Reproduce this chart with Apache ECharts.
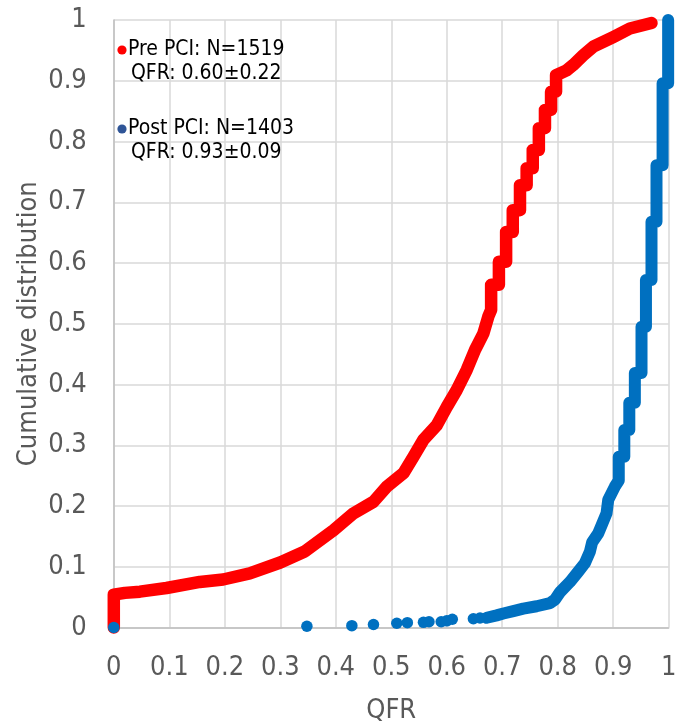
<!DOCTYPE html>
<html>
<head>
<meta charset="utf-8">
<script src="https://cdn.jsdelivr.net/npm/echarts@6/dist/echarts.min.js"></script>
<style>
  html, body { margin: 0; padding: 0; background: #ffffff; }
  #chart { width: 677px; height: 726px; }
</style>
</head>
<body>
<div id="chart"></div>
<script>
// Cumulative distribution of QFR before PCI (QFR value, cumulative fraction)
const preQfr = [0, 0, 0.02, 0.047, 0.095, 0.155, 0.197, 0.245, 0.30, 0.344, 0.396, 0.432, 0.468, 0.492,
  0.522, 0.540, 0.558, 0.582, 0.600, 0.618, 0.636, 0.651, 0.666, 0.675, 0.680, 0.680,
  0.694, 0.694, 0.707, 0.707, 0.719, 0.719, 0.732, 0.732, 0.744, 0.744, 0.755, 0.755, 0.766, 0.766,
  0.777, 0.777, 0.788, 0.788, 0.797, 0.797, 0.816, 0.828, 0.846, 0.864, 0.900, 0.930, 0.969];
const preCum = [0, 0.054, 0.057, 0.059, 0.065, 0.075, 0.079, 0.089, 0.107, 0.125, 0.160, 0.188, 0.207, 0.232,
  0.254, 0.281, 0.309, 0.333, 0.363, 0.391, 0.424, 0.457, 0.484, 0.512, 0.523, 0.564,
  0.564, 0.602, 0.602, 0.651, 0.651, 0.687, 0.687, 0.728, 0.728, 0.756, 0.756, 0.786, 0.786, 0.822,
  0.822, 0.852, 0.852, 0.882, 0.882, 0.909, 0.917, 0.926, 0.942, 0.956, 0.972, 0.986, 0.995];

// Cumulative distribution of QFR after PCI: sparse low values, then the dense curve
const postDotQfr = [0, 0.348, 0.429, 0.468, 0.510, 0.529, 0.558, 0.568, 0.590, 0.600, 0.610, 0.648, 0.660];
const postDotCum = [0, 0.002, 0.003, 0.005, 0.007, 0.008, 0.0085, 0.0095, 0.0095, 0.011, 0.0135, 0.0145, 0.0156];
const postQfr = [0.672, 0.690, 0.702, 0.720, 0.738, 0.762, 0.786, 0.795, 0.804, 0.822, 0.837, 0.849, 0.858,
  0.862, 0.873, 0.879, 0.888, 0.891, 0.903, 0.910, 0.910, 0.920, 0.920, 0.929, 0.929, 0.939, 0.939,
  0.951, 0.951, 0.959, 0.959, 0.969, 0.969, 0.978, 0.978, 0.989, 0.989, 0.999, 0.999];
const postCum = [0.016, 0.020, 0.023, 0.027, 0.031, 0.035, 0.040, 0.046, 0.058, 0.075, 0.092, 0.106, 0.125,
  0.140, 0.155, 0.168, 0.188, 0.210, 0.232, 0.242, 0.281, 0.281, 0.325, 0.325, 0.370, 0.370, 0.419,
  0.419, 0.495, 0.495, 0.572, 0.572, 0.668, 0.668, 0.761, 0.761, 0.896, 0.896, 1.0];

const legendLines = [
  { head: 'Pre PCI: N=1519', stat: 'QFR: 0.60\u00b10.22', dot: '#ff0000' },
  { head: 'Post PCI: N=1403', stat: 'QFR: 0.93\u00b10.09', dot: '#2f5597' }
];

const zip = (xs, ys) => xs.map((x, i) => [x, ys[i]]);

const FONT = '"DejaVu Sans Condensed", "DejaVu Sans", sans-serif';
const RED = '#ff0000';
const BLUE = '#0070c0';

const chart = echarts.init(document.getElementById('chart'), null, { renderer: 'canvas' });

const legendGraphics = [];
legendLines.forEach((item, i) => {
  const top = 50 + i * 79;
  legendGraphics.push(
    { type: 'circle', shape: { cx: 122, cy: top, r: 4.6 }, style: { fill: item.dot }, z: 100 },
    { type: 'text', x: 128, y: top, style: { text: item.head, font: '21px ' + FONT, fill: '#000', textVerticalAlign: 'middle' }, z: 100 },
    { type: 'text', x: 131, y: top + 24, style: { text: item.stat, font: '21px ' + FONT, fill: '#000', textVerticalAlign: 'middle' }, z: 100 }
  );
});

chart.setOption({
  animation: false,
  backgroundColor: '#ffffff',
  grid: {
    left: 113.8, right: 8.3, top: 20, bottom: 98.5, containLabel: false,
    // generous outer bounds so axis labels and names never squeeze the plot area
    outerBounds: { left: -200, top: -200, right: -200, bottom: -200 }
  },
  xAxis: {
    type: 'value', min: 0, max: 1, interval: 0.1,
    name: 'QFR', nameLocation: 'middle', nameGap: 71.5, nameMoveOverlap: false,
    nameTextStyle: { fontFamily: FONT, fontSize: 27, lineHeight: 24, color: '#595959' },
    axisLine: { show: true, onZero: false, lineStyle: { color: '#bfbfbf', width: 1.5 } },
    axisTick: { show: false },
    axisLabel: { fontFamily: FONT, fontSize: 27, lineHeight: 26, color: '#595959', margin: 27, verticalAlign: 'top' },
    splitLine: { show: true, lineStyle: { color: '#d9d9d9', width: 1.5 } }
  },
  yAxis: {
    type: 'value', min: 0, max: 1, interval: 0.1,
    name: 'Cumulative distribution', nameLocation: 'middle', nameGap: 73, nameMoveOverlap: false,
    nameTextStyle: { fontFamily: FONT, fontSize: 27, lineHeight: 24, color: '#595959' },
    axisLine: { show: true, onZero: false, lineStyle: { color: '#bfbfbf', width: 1.5 } },
    axisTick: { show: false },
    axisLabel: { fontFamily: FONT, fontSize: 27, color: '#595959', margin: 27 },
    splitLine: { show: true, lineStyle: { color: '#d9d9d9', width: 1.5 } }
  },
  series: [
    {
      name: 'Pre PCI', type: 'line', data: zip(preQfr, preCum),
      showSymbol: false, clip: false, z: 2,
      lineStyle: { color: RED, width: 12.5, cap: 'round', join: 'round' }
    },
    {
      name: 'Post PCI', type: 'line', data: zip(postQfr, postCum),
      showSymbol: false, clip: false, z: 3,
      lineStyle: { color: BLUE, width: 12, cap: 'round', join: 'round' }
    },
    {
      name: 'Post PCI low', type: 'scatter', data: zip(postDotQfr, postDotCum),
      symbol: 'circle', symbolSize: 11.5, clip: false, z: 4,
      itemStyle: { color: BLUE, opacity: 1 }
    }
  ],
  graphic: legendGraphics
});
</script>
</body>
</html>
